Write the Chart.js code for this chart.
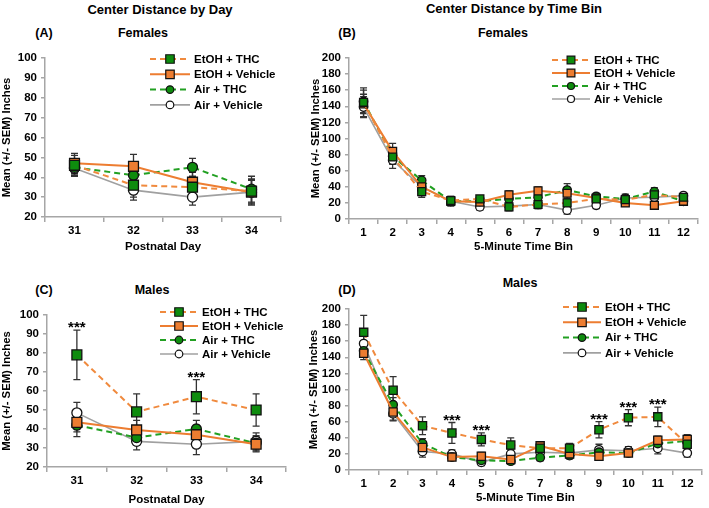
<!DOCTYPE html>
<html>
<head>
<meta charset="utf-8">
<script src="https://cdn.jsdelivr.net/npm/chart.js@4/dist/chart.umd.min.js"></script>
<style>
  body { margin: 0; width: 709px; height: 508px; position: relative; background: #fff; overflow: hidden; }
  canvas { position: absolute; }
  .t { position: absolute; transform: translate(-50%, -50%); font-family: "Liberation Sans", Arial, sans-serif; font-weight: bold; color: #000; white-space: nowrap; }
</style>
</head>
<body>
<div class="t" style="left:160px; top:9px; font-size:13px;">Center Distance by Day</div>
<div class="t" style="left:514px; top:8px; font-size:13px;">Center Distance by Time Bin</div>
<div class="t" style="left:44px; top:33px; font-size:12.5px;">(A)</div>
<div class="t" style="left:143px; top:33px; font-size:12.5px;">Females</div>
<div class="t" style="left:347px; top:33px; font-size:12.5px;">(B)</div>
<div class="t" style="left:503px; top:33px; font-size:12.5px;">Females</div>
<div class="t" style="left:44px; top:290px; font-size:12.5px;">(C)</div>
<div class="t" style="left:152px; top:290px; font-size:12.5px;">Males</div>
<div class="t" style="left:347px; top:290px; font-size:12.5px;">(D)</div>
<div class="t" style="left:520px; top:283px; font-size:12.5px;">Males</div>

<canvas id="chartA" width="300" height="215" style="left:0px; top:45px;"></canvas>
<canvas id="chartB" width="409" height="215" style="left:300px; top:45px;"></canvas>
<canvas id="chartC" width="300" height="238" style="left:0px; top:270px;"></canvas>
<canvas id="chartD" width="409" height="238" style="left:300px; top:270px;"></canvas>

<script>
// categories
const days = ["31", "32", "33", "34"];
const bins = ["1", "2", "3", "4", "5", "6", "7", "8", "9", "10", "11", "12"];
const seriesNames = ["EtOH + THC", "EtOH + Vehicle", "Air + THC", "Air + Vehicle"];

// (A) females by day
const femDayEtohThc = [46, 36, 35, 33];
const femDayEtohVeh = [47, 45.5, 37.5, 32.5];
const femDayAirThc = [45, 41, 45, 34];
const femDayAirVeh = [44.5, 33.5, 30, 32.5];
const femDayEtohThcSem = [5, 6, 5, 6];
const femDayEtohVehSem = [5, 6, 5, 6];
const femDayAirThcSem = [4, 4, 4.5, 6.5];
const femDayAirVehSem = [4, 5, 4, 6.5];

// (B) females by time bin
const femBinEtohThc = [145, 77, 34, 23, 25, 15, 18, 20, 25, 24, 30, 27];
const femBinEtohVeh = [143, 84, 40, 22, 21, 30, 35, 32, 26, 20, 17, 22];
const femBinAirThc = [146, 78, 48, 22, 22, 25, 27, 36, 28, 25, 34, 22];
const femBinAirVeh = [139, 73, 40, 22, 15, 16, 18, 11, 17, 26, 27, 29];
const femBinEtohThcSem = [18, 9, 7, 5, 4, 5, 5, 5, 4, 5, 5, 4];
const femBinEtohVehSem = [12, 10, 6, 5, 4, 5, 5, 6, 4, 4, 5, 4];
const femBinAirThcSem = [14, 9, 6, 5, 4, 5, 5, 8, 4, 5, 5, 4];
const femBinAirVehSem = [13, 10, 9, 6, 4, 5, 5, 5, 4, 5, 5, 4];

// (C) males by day
const maleDayEtohThc = [79, 49, 57, 50];
const maleDayEtohVeh = [43.5, 39.5, 37, 32];
const maleDayAirThc = [42, 35.5, 40, 32.5];
const maleDayAirVeh = [48.5, 33.5, 32, 33.5];
const maleDayEtohThcSem = [13, 9.5, 9, 8.5];
const maleDayEtohVehSem = [5, 5, 5, 4];
const maleDayAirThcSem = [6, 4, 4.5, 4];
const maleDayAirVehSem = [5.5, 4.5, 5.5, 4.5];
const maleDayStars = [0, 2];

// (D) males by time bin
const maleBinEtohThc = [171, 99, 55, 46, 38, 31, 27, 27, 50, 65, 66, 32];
const maleBinEtohVeh = [145, 72, 28, 16, 17, 13, 30, 20, 17, 21, 37, 38];
const maleBinAirThc = [148, 81, 33, 16, 12, 11, 15.5, 18, 22, 21, 33, 36];
const maleBinAirVeh = [157, 70, 23, 20, 9.5, 20, 22, 21, 25, 24, 27, 21];
const maleBinEtohThcSem = [21, 17, 11, 13, 8, 9, 6, 6, 10, 10, 12, 8];
const maleBinEtohVehSem = [8, 10, 6, 4, 5, 4, 5, 4, 4, 4, 5, 6];
const maleBinAirThcSem = [8, 9, 6, 4, 4, 4, 4, 4, 4, 4, 5, 5];
const maleBinAirVehSem = [9, 9, 7, 5, 4, 5, 5, 5, 7, 5, 7, 5];
const maleBinStars = [3, 4, 8, 9, 10];

const FONT = '"Liberation Sans", Arial, sans-serif';
const axisColor = "#a6a6a6";
const green = "#0e8c0e";
const orange = "#ED7D31";

// line + marker look for each group
const looks = [
  { borderColor: "#F08A3E", borderDash: [6, 4], borderWidth: 2, pointStyle: "rect", pointBackgroundColor: green },
  { borderColor: orange, borderDash: [], borderWidth: 2, pointStyle: "rect", pointBackgroundColor: orange },
  { borderColor: "#22a022", borderDash: [6, 4], borderWidth: 2, pointStyle: "circle", pointBackgroundColor: green },
  { borderColor: "#a0a0a0", borderDash: [], borderWidth: 1.6, pointStyle: "circle", pointBackgroundColor: "#ffffff" }
];

// error bars behind the lines, stars above EtOH + THC
const errorBars = {
  id: "errorBars",
  beforeDatasetsDraw(chart) {
    const ctx = chart.ctx;
    const yScale = chart.scales.y;
    chart.data.datasets.forEach((ds, i) => {
      const meta = chart.getDatasetMeta(i);
      meta.data.forEach((pt, j) => {
        const top = yScale.getPixelForValue(ds.data[j] + ds.sem[j]);
        const bot = yScale.getPixelForValue(ds.data[j] - ds.sem[j]);
        ctx.save();
        ctx.strokeStyle = "#333";
        ctx.lineWidth = 1.3;
        ctx.beginPath();
        ctx.moveTo(pt.x, top); ctx.lineTo(pt.x, bot);
        ctx.moveTo(pt.x - 3.5, top); ctx.lineTo(pt.x + 3.5, top);
        ctx.moveTo(pt.x - 3.5, bot); ctx.lineTo(pt.x + 3.5, bot);
        ctx.stroke();
        ctx.restore();
      });
    });
  },
  afterDatasetsDraw(chart, args, opts) {
    const stars = opts.stars || [];
    if (!stars.length) return;
    const ctx = chart.ctx;
    const ds = chart.data.datasets[0];
    const meta = chart.getDatasetMeta(0);
    ctx.save();
    ctx.font = "bold 15px " + FONT;
    ctx.fillStyle = "#000";
    ctx.textAlign = "center";
    ctx.textBaseline = "alphabetic";
    stars.forEach(j => {
      const top = chart.scales.y.getPixelForValue(ds.data[j] + ds.sem[j]);
      ctx.fillText("***", meta.data[j].x, top + 2);
    });
    ctx.restore();
  }
};

function drawMarker(ctx, style, x, y, r) {
  ctx.beginPath();
  if (style === "rect") {
    const h = r * Math.SQRT1_2;
    ctx.rect(x - h, y - h, 2 * h, 2 * h);
  } else {
    ctx.arc(x, y, r, 0, Math.PI * 2);
  }
  ctx.fill();
  ctx.stroke();
}

// legend with a line sample and its marker
const lineLegend = {
  id: "lineLegend",
  afterDraw(chart, args, o) {
    const ctx = chart.ctx;
    chart.data.datasets.forEach((ds, i) => {
      const y = o.y + i * o.row;
      ctx.save();
      ctx.strokeStyle = ds.borderColor;
      ctx.lineWidth = ds.borderWidth;
      ctx.setLineDash(ds.borderDash);
      ctx.beginPath();
      ctx.moveTo(o.x, y);
      ctx.lineTo(o.x + o.len, y);
      ctx.stroke();
      ctx.setLineDash([]);
      ctx.fillStyle = ds.pointBackgroundColor;
      ctx.strokeStyle = "#111";
      ctx.lineWidth = 1.2;
      drawMarker(ctx, ds.pointStyle, o.x + o.len / 2, y, ds.pointStyle === "rect" ? o.rect : o.circle);
      ctx.font = "bold 11.5px " + FONT;
      ctx.fillStyle = "#000";
      ctx.textBaseline = "middle";
      ctx.fillText(ds.label, o.x + o.len + 4, y + 0.5);
      ctx.restore();
    });
  }
};

function makeChart(id, labels, values, sems, opt) {
  const tickFont = { family: FONT, size: 11.5, weight: "bold" };
  return new Chart(document.getElementById(id), {
    type: "line",
    data: {
      labels: labels,
      datasets: values.map((v, i) => Object.assign({
        label: seriesNames[i],
        data: v,
        sem: sems[i],
        tension: 0,
        pointBorderColor: "#111",
        pointBorderWidth: 1.3,
        pointRadius: looks[i].pointStyle === "rect" ? opt.rect : opt.circle
      }, looks[i]))
    },
    options: {
      responsive: false,
      animation: false,
      devicePixelRatio: 1,
      layout: { padding: opt.pad },
      plugins: {
        legend: { display: false },
        tooltip: { enabled: false },
        errorBars: { stars: opt.stars },
        lineLegend: opt.legend
      },
      scales: {
        x: {
          offset: true,
          grid: { offset: true, drawOnChartArea: false, color: axisColor, tickLength: 5, lineWidth: 1.5 },
          border: { color: axisColor, width: 1.5 },
          ticks: { font: tickFont, color: "#000", padding: 2, maxRotation: 0, autoSkip: false },
          title: { display: true, text: opt.xTitle, font: tickFont, color: "#000", padding: { top: 0, bottom: opt.xTitlePad } },
          afterFit: s => { s.height = opt.xH; }
        },
        y: {
          min: opt.min,
          max: opt.max,
          ticks: { stepSize: opt.step, font: tickFont, color: "#000", padding: 4, autoSkip: false },
          grid: { drawOnChartArea: false, color: axisColor, tickLength: 4, lineWidth: 1.5 },
          border: { color: axisColor, width: 1.5 },
          title: { display: true, text: "Mean (+/- SEM) Inches", font: { family: FONT, size: 11.3, weight: "bold" }, color: "#000", padding: { top: opt.yTitlePad, bottom: 0 } },
          afterFit: s => { s.width = opt.yW; }
        }
      }
    },
    plugins: [errorBars, lineLegend]
  });
}

makeChart("chartA", days,
  [femDayEtohThc, femDayEtohVeh, femDayAirThc, femDayAirVeh],
  [femDayEtohThcSem, femDayEtohVehSem, femDayAirThcSem, femDayAirVehSem],
  { pad: { left: 0, top: 13, right: 19, bottom: 0 }, xH: 43, yW: 45, min: 20, max: 100, step: 10,
    xTitle: "Postnatal Day", xTitlePad: 6, yTitlePad: 0, rect: 7, circle: 5, stars: [],
    legend: { x: 150, y: 14, row: 15.3, len: 40, rect: 6, circle: 3.8 } });

makeChart("chartB", bins,
  [femBinEtohThc, femBinEtohVeh, femBinAirThc, femBinAirVeh],
  [femBinEtohThcSem, femBinEtohVehSem, femBinAirThcSem, femBinAirVehSem],
  { pad: { left: 0, top: 13, right: 11, bottom: 0 }, xH: 41, yW: 49, min: 0, max: 200, step: 20,
    xTitle: "5-Minute Time Bin", xTitlePad: 6, yTitlePad: 9, rect: 5.6, circle: 4.2, stars: [],
    legend: { x: 252, y: 15, row: 13, len: 38, rect: 5.5, circle: 3.5 } });

makeChart("chartC", days,
  [maleDayEtohThc, maleDayEtohVeh, maleDayAirThc, maleDayAirVeh],
  [maleDayEtohThcSem, maleDayEtohVehSem, maleDayAirThcSem, maleDayAirVehSem],
  { pad: { left: 0, top: 45, right: 14, bottom: 0 }, xH: 41, yW: 47, min: 20, max: 100, step: 10,
    xTitle: "Postnatal Day", xTitlePad: 1, yTitlePad: 0.5, rect: 7, circle: 5, stars: maleDayStars,
    legend: { x: 160, y: 42, row: 14, len: 38, rect: 6, circle: 3.8 } });

makeChart("chartD", bins,
  [maleBinEtohThc, maleBinEtohVeh, maleBinAirThc, maleBinAirVeh],
  [maleBinEtohThcSem, maleBinEtohVehSem, maleBinAirThcSem, maleBinAirVehSem],
  { pad: { left: 0, top: 39, right: 1, bottom: 0 }, xH: 38, yW: 49, min: 0, max: 200, step: 20,
    xTitle: "5-Minute Time Bin", xTitlePad: 3, yTitlePad: 7, rect: 5.8, circle: 4.3, stars: maleBinStars,
    legend: { x: 263, y: 37, row: 15.3, len: 38, rect: 6, circle: 3.8 } });
</script>
</body>
</html>
